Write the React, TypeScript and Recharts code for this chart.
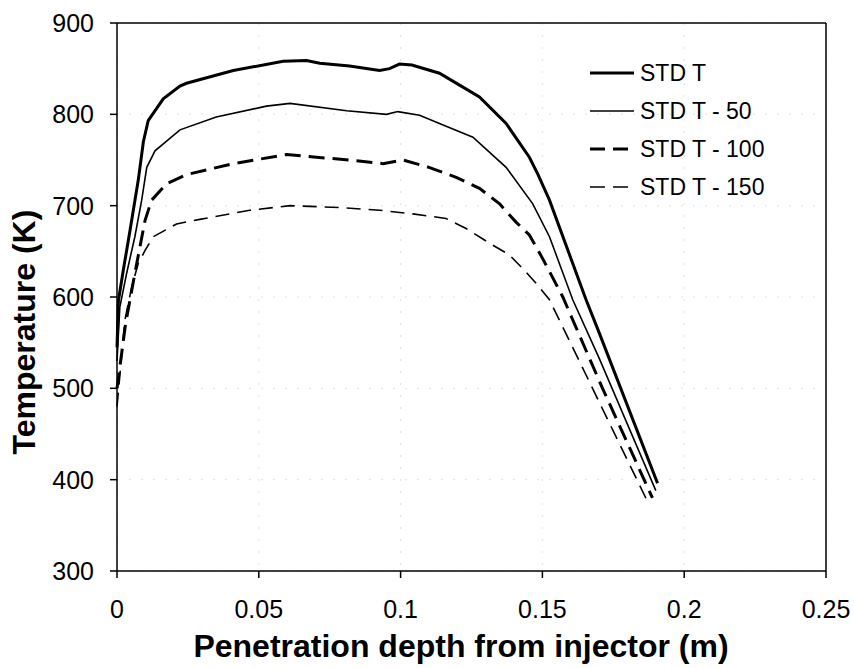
import { LineChart, Line, XAxis, YAxis, CartesianGrid, ReferenceLine, Legend, Label } from "recharts"

const xTicks = [0, 0.05, 0.1, 0.15, 0.2, 0.25]
const yTicks = [300, 400, 500, 600, 700, 800, 900]

// penetration depth (m) vs temperature (K)
const stdT = [
  { x: 0, t: 545 }, { x: 0.0005, t: 596 }, { x: 0.0022, t: 629 }, { x: 0.0046, t: 673 },
  { x: 0.0075, t: 728 }, { x: 0.0093, t: 770 }, { x: 0.011, t: 793 }, { x: 0.0163, t: 817 },
  { x: 0.0222, t: 831 }, { x: 0.0245, t: 834 }, { x: 0.041, t: 848 }, { x: 0.0586, t: 858 },
  { x: 0.0668, t: 859 }, { x: 0.0715, t: 856 }, { x: 0.082, t: 853 }, { x: 0.0926, t: 848 },
  { x: 0.0961, t: 850 }, { x: 0.0996, t: 855 }, { x: 0.104, t: 854 }, { x: 0.1137, t: 845 },
  { x: 0.1208, t: 832 }, { x: 0.1278, t: 819 }, { x: 0.1372, t: 790 }, { x: 0.1454, t: 753 },
  { x: 0.1483, t: 735 }, { x: 0.1525, t: 706 }, { x: 0.1654, t: 597 }, { x: 0.17, t: 561 },
  { x: 0.1906, t: 396 },
]

const stdT50 = [
  { x: 0, t: 530 }, { x: 0.001, t: 589 }, { x: 0.0034, t: 626 }, { x: 0.0063, t: 666 },
  { x: 0.0087, t: 706 }, { x: 0.0105, t: 742 }, { x: 0.0134, t: 760 }, { x: 0.0222, t: 783 },
  { x: 0.035, t: 797 }, { x: 0.0527, t: 809 }, { x: 0.061, t: 812 }, { x: 0.081, t: 804 },
  { x: 0.095, t: 800 }, { x: 0.099, t: 803 }, { x: 0.1067, t: 799 }, { x: 0.1137, t: 790 },
  { x: 0.1208, t: 781 }, { x: 0.1255, t: 775 }, { x: 0.1372, t: 742 }, { x: 0.1466, t: 702 },
  { x: 0.1525, t: 666 }, { x: 0.1607, t: 597 }, { x: 0.17, t: 533 }, { x: 0.19, t: 388 },
]

const stdT100 = [
  { x: 0, t: 500 }, { x: 0.003, t: 570 }, { x: 0.0063, t: 626 }, { x: 0.0081, t: 655 },
  { x: 0.0099, t: 684 }, { x: 0.0122, t: 706 }, { x: 0.0175, t: 724 }, { x: 0.0245, t: 734 },
  { x: 0.041, t: 746 }, { x: 0.0598, t: 756 }, { x: 0.0703, t: 753 }, { x: 0.082, t: 750 },
  { x: 0.0938, t: 746 }, { x: 0.1008, t: 750 }, { x: 0.11, t: 742 }, { x: 0.1196, t: 731 },
  { x: 0.1278, t: 719 }, { x: 0.1349, t: 702 }, { x: 0.1407, t: 682 }, { x: 0.1454, t: 668 },
  { x: 0.1501, t: 642 }, { x: 0.1572, t: 600 }, { x: 0.1712, t: 500 }, { x: 0.1888, t: 380 },
]

const stdT150 = [
  { x: 0, t: 480 }, { x: 0.0028, t: 575 }, { x: 0.0052, t: 611 }, { x: 0.0075, t: 637 },
  { x: 0.0099, t: 651 }, { x: 0.0128, t: 666 }, { x: 0.021, t: 680 }, { x: 0.0292, t: 685 },
  { x: 0.0468, t: 695 }, { x: 0.061, t: 700 }, { x: 0.0785, t: 698 }, { x: 0.0926, t: 695 },
  { x: 0.1043, t: 691 }, { x: 0.116, t: 686 }, { x: 0.1231, t: 675 }, { x: 0.1313, t: 659 },
  { x: 0.1384, t: 646 }, { x: 0.1431, t: 631 }, { x: 0.1478, t: 615 }, { x: 0.1525, t: 597 },
  { x: 0.1877, t: 372 },
]

const series = [
  { name: "STD T", data: stdT, width: 3, dash: undefined },
  { name: "STD T - 50", data: stdT50, width: 1.6, dash: undefined },
  { name: "STD T - 100", data: stdT100, width: 3, dash: "16 8" },
  { name: "STD T - 150", data: stdT150, width: 1.6, dash: "14 8" },
]

const font = "'Liberation Sans', Arial, sans-serif"

function LegendBox() {
  return (
    <div style={{ fontFamily: font, fontSize: 23, color: "#000" }}>
      {series.map((s) => (
        <div key={s.name} style={{ display: "flex", alignItems: "center", height: 38 }}>
          <svg width={48} height={10} style={{ marginRight: 4 }}>
            <line x1={2} y1={5} x2={46} y2={5} stroke="#000" strokeWidth={s.width} strokeDasharray={s.dash ? "15 8" : undefined} />
          </svg>
          <span>{s.name}</span>
        </div>
      ))}
    </div>
  )
}

export default function App() {
  return (
    <div style={{ position: "absolute", left: 0, top: 0, width: 854, height: 668, background: "#fff" }}>
      <LineChart width={854} height={668} margin={{ top: 23, right: 28, bottom: 37, left: 47 }}>
        <CartesianGrid stroke="#e2e2e2" strokeDasharray="2 10" />
        <XAxis
          type="number"
          dataKey="x"
          domain={[0, 0.25]}
          ticks={xTicks}
          height={60}
          stroke="#000"
          strokeWidth={1.5}
          tickSize={7}
          tickMargin={22}
          tick={{ fill: "#000", fontSize: 25, fontFamily: font }}
        >
          <Label
            content={() => (
              <text x={461} y={657} textAnchor="middle" fontFamily={font} fontWeight="bold" fontSize={32} fill="#000">
                Penetration depth from injector (m)
              </text>
            )}
          />
        </XAxis>
        <YAxis
          type="number"
          domain={[300, 900]}
          ticks={yTicks}
          width={70}
          stroke="#000"
          strokeWidth={1.5}
          tickSize={7}
          tickMargin={16}
          tick={{ fill: "#000", fontSize: 25, fontFamily: font }}
        >
          <Label
            content={() => (
              <text x={35} y={332} transform="rotate(-90 35 332)" textAnchor="middle" fontFamily={font} fontWeight="bold" fontSize={32} fill="#000">
                Temperature (K)
              </text>
            )}
          />
        </YAxis>
        <ReferenceLine y={900} stroke="#000" strokeWidth={1.5} />
        <ReferenceLine x={0.25} stroke="#000" strokeWidth={1.5} />
        <Legend
          layout="vertical"
          align="center"
          verticalAlign="middle"
          wrapperStyle={{ left: 588, top: 54, width: 220 }}
          content={() => <LegendBox />}
        />
        {series.map((s) => (
          <Line
            key={s.name}
            name={s.name}
            data={s.data}
            dataKey="t"
            type="linear"
            stroke="#000"
            strokeWidth={s.width}
            strokeDasharray={s.dash}
            dot={false}
            activeDot={false}
            isAnimationActive={false}
          />
        ))}
      </LineChart>
    </div>
  )
}
